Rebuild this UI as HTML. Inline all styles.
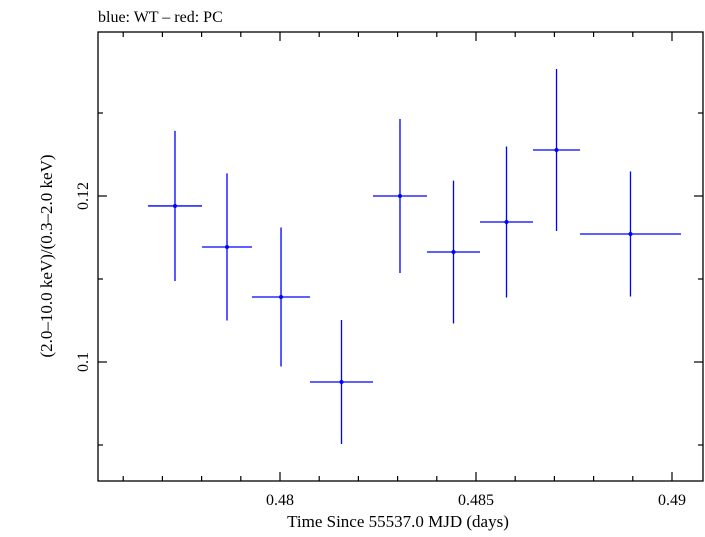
<!DOCTYPE html>
<html><head><meta charset="utf-8"><style>
body{margin:0;background:#fff;}
svg text{font-family:"Liberation Serif",serif;fill:#000;}
</style></head><body>
<svg id="chart" width="705" height="532" xmlns="http://www.w3.org/2000/svg">
<text x="98" y="22" font-size="16">blue: WT – red: PC</text>
<rect x="98" y="32" width="605" height="449" fill="none" stroke="#000" stroke-width="1.3"/>
<g id="axes"></g>
<g id="marks"></g>
<text x="398" y="527" font-size="17" text-anchor="middle">Time Since 55537.0 MJD (days)</text>
<text transform="translate(52,256) rotate(-90)" font-size="17" text-anchor="middle">(2.0–10.0 keV)/(0.3–2.0 keV)</text>
</svg>
<script>
const times=[0.477321,0.478648,0.480026,0.481569,0.483061,0.484426,0.485778,0.487054,0.488941];
const timeErr=[0.000689,0.000638,0.00074,0.000804,0.000689,0.000676,0.000676,0.0006,0.001288];
const ratios=[0.1188,0.11386,0.10783,0.09759,0.12,0.11325,0.11687,0.12554,0.11542];
const ratioErr=[0.00904,0.00886,0.00837,0.00747,0.00928,0.00861,0.0091,0.00976,0.00753];
const xTickLabels=["0.48","0.485","0.49"];
const yTickLabels=["0.1","0.12"];
const X0=98,X1=703,Y0=481,Y1=32,xMin=0.475357,xMax=0.490791,yMin=0.085663,yMax=0.139759;
const sx=v=>X0+(v-xMin)/(xMax-xMin)*(X1-X0);
const sy=v=>Y0-(v-yMin)/(yMax-yMin)*(Y0-Y1);
const NS="http://www.w3.org/2000/svg";
const axes=document.getElementById('axes'),marks=document.getElementById('marks');
function line(p,x1,y1,x2,y2,c,w,name){const l=document.createElementNS(NS,'line');
l.setAttribute('x1',x1);l.setAttribute('y1',y1);l.setAttribute('x2',x2);l.setAttribute('y2',y2);
l.setAttribute('stroke',c);l.setAttribute('stroke-width',w);


p.appendChild(l);return l;}
function text(x,y,s,anchor,rot,name){const t=document.createElementNS(NS,'text');
t.setAttribute('x',x);t.setAttribute('y',y);t.setAttribute('font-size','16');t.setAttribute('text-anchor',anchor);
if(rot)t.setAttribute('transform',`rotate(-90,${x},${y})`);t.textContent=s;


axes.appendChild(t);}
for(let i=476;i<=490;i++){const v=i/1000;const x=sx(v);const major=i%5===0;const L=major?9:5;
line(axes,x,Y0,x,Y0-L,'#000',1.2,'x-tick');line(axes,x,Y1,x,Y1+L,'#000',1.2,'x-tick-top');}
xTickLabels.forEach(s=>text(sx(parseFloat(s)),505,s,'middle',false,'x-tick-label'));
for(let i=9;i<=13;i++){const v=i/100;const y=sy(v);const major=i%2===0;const L=major?9:5;
line(axes,X0,y,X0+L,y,'#000',1.2,'y-tick');line(axes,X1,y,X1-L,y,'#000',1.2,'y-tick-right');}
yTickLabels.forEach(s=>text(88,sy(parseFloat(s)),s,'middle',true,'y-tick-label'));
times.forEach((t,i)=>{const x=sx(t),y=sy(ratios[i]);
line(marks,sx(t-timeErr[i]),y,sx(t+timeErr[i]),y,'#0000ff',1.3,'x-error-bar');
line(marks,x,sy(ratios[i]-ratioErr[i]),x,sy(ratios[i]+ratioErr[i]),'#0000ff',1.3,'y-error-bar');
const c=document.createElementNS(NS,'circle');c.setAttribute('cx',x);c.setAttribute('cy',y);c.setAttribute('r',2);c.setAttribute('fill','#0000ff');


marks.appendChild(c);});
</script>
</body></html>
